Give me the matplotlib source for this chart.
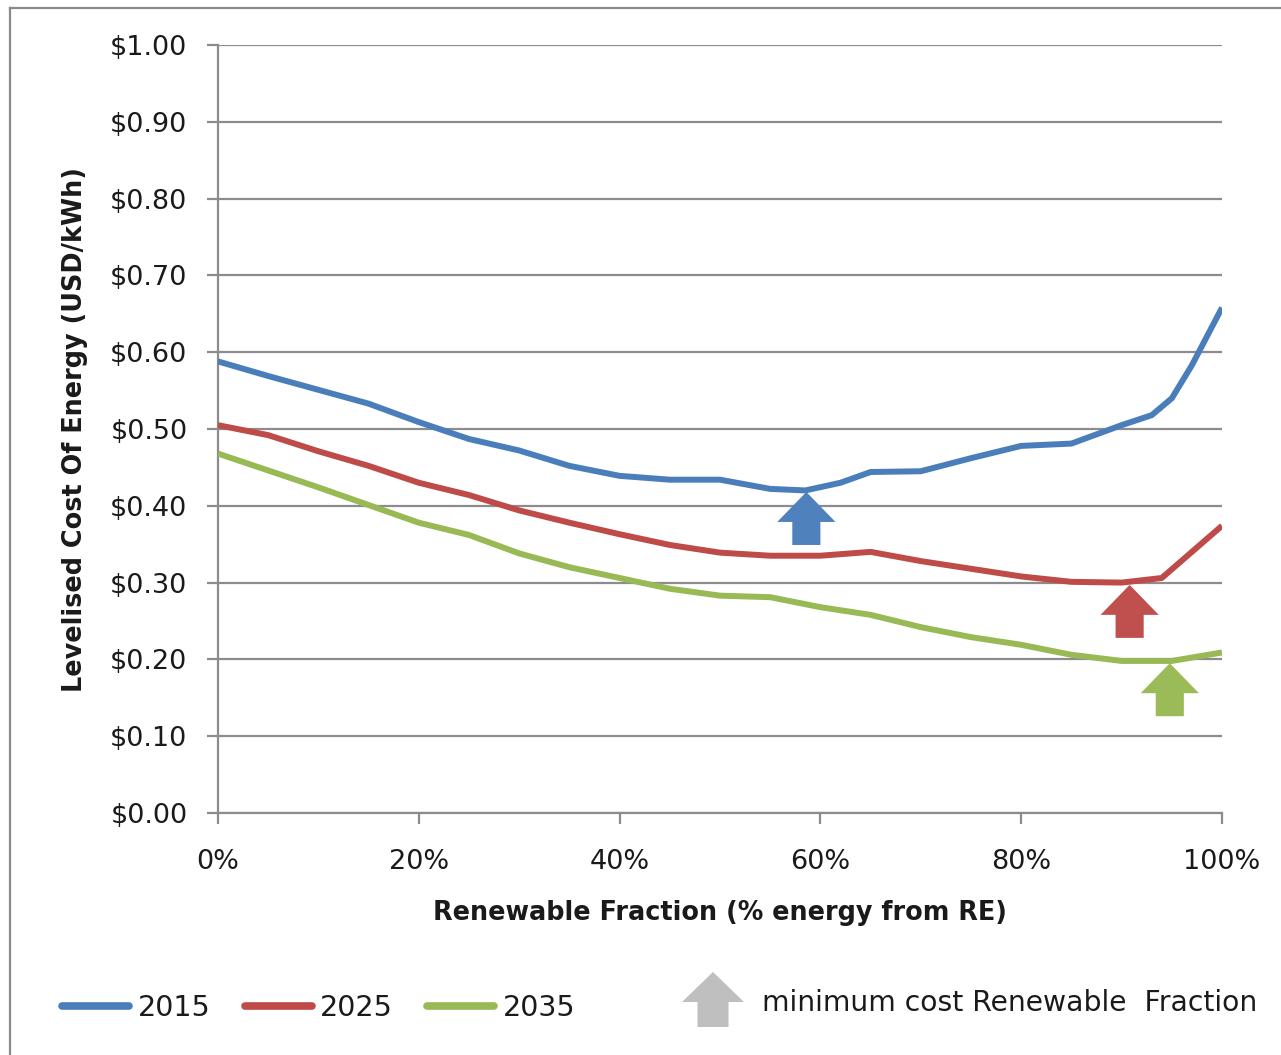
import matplotlib
matplotlib.use("Agg")
import matplotlib.pyplot as plt
from matplotlib.patches import FancyArrow
from matplotlib.lines import Line2D
from matplotlib.ticker import FuncFormatter

# ---- data ----
x_2015 = [0, 5, 10, 15, 20, 25, 30, 35, 40, 45, 50, 55, 58.5, 62, 65, 70, 75, 80, 85, 90, 93, 95, 97, 100]
y_2015 = [0.588, 0.569, 0.551, 0.533, 0.509, 0.487, 0.472, 0.452, 0.439, 0.434, 0.434, 0.422, 0.420,
          0.430, 0.444, 0.445, 0.462, 0.478, 0.481, 0.505, 0.518, 0.540, 0.583, 0.658]

x_2025 = [0, 5, 10, 15, 20, 25, 30, 35, 40, 45, 50, 55, 60, 65, 70, 75, 80, 85, 90, 94, 97, 100]
y_2025 = [0.505, 0.492, 0.471, 0.452, 0.430, 0.414, 0.394, 0.378, 0.363, 0.349, 0.339, 0.335, 0.335,
          0.340, 0.328, 0.318, 0.308, 0.301, 0.300, 0.306, 0.340, 0.374]

x_2035 = [0, 5, 10, 15, 20, 25, 30, 35, 40, 45, 50, 55, 60, 65, 70, 75, 80, 85, 90, 95, 100]
y_2035 = [0.468, 0.446, 0.424, 0.401, 0.378, 0.362, 0.338, 0.320, 0.306, 0.292, 0.283, 0.281, 0.268,
          0.258, 0.242, 0.229, 0.219, 0.206, 0.198, 0.198, 0.209]

series_labels = ["2015", "2025", "2035"]
series_colors = ["#4A7EBB", "#BE4B48", "#98B954"]
arrow_colors = ["#4F81BD", "#C0504D", "#9BBB59"]

# minimum-cost markers: (x position, arrow tip value)
min_x = [58.6, 90.8, 94.8]
min_tip = [0.418, 0.297, 0.195]

x_ticks = [0, 20, 40, 60, 80, 100]
y_ticks = [0.0, 0.1, 0.2, 0.3, 0.4, 0.5, 0.6, 0.7, 0.8, 0.9, 1.0]

x_title = "Renewable Fraction (% energy from RE)"
y_title = "Levelised Cost Of Energy (USD/kWh)"
note_text = "minimum cost Renewable  Fraction"

# ---- figure ----
W, H = 1281, 1055
fig = plt.figure(figsize=(W / 100, H / 100), dpi=100)
plt.rcParams['font.family'] = ['DejaVu Sans']

ax = fig.add_axes([218 / W, 1 - 813 / H, (1222 - 218) / W, (813 - 45) / H])
grid_c = "#8C8C8C"
TXT = "#1a1a1a"

for xs, ys, c, lab in zip([x_2015, x_2025, x_2035], [y_2015, y_2025, y_2035], series_colors, series_labels):
    ax.plot(xs, ys, color=c, lw=4.3, solid_joinstyle="round", solid_capstyle="butt", label=lab, zorder=3)

# arrows
shaft_w = 2.8
head_w = 5.8
head_len = 0.039
arr_len = 0.069
for xm, tip, c in zip(min_x, min_tip, arrow_colors):
    ax.add_patch(FancyArrow(xm, tip - arr_len, 0, arr_len, width=shaft_w, head_width=head_w,
                            head_length=head_len, length_includes_head=True,
                            color=c, lw=0, zorder=4))

ax.set_xlim(0, 100)
ax.set_ylim(0, 1.0)
ax.set_xticks(x_ticks)
ax.set_yticks(y_ticks)
ax.xaxis.set_major_formatter(FuncFormatter(lambda v, p: f"{int(round(v))}%"))
ax.yaxis.set_major_formatter(FuncFormatter(lambda v, p: f"${v:.2f}"))
ax.grid(axis="y", color=grid_c, lw=1.6, zorder=1)
ax.set_axisbelow(True)
for s in ["top", "right"]:
    ax.spines[s].set_visible(False)
for s in ["left", "bottom"]:
    ax.spines[s].set_color(grid_c)
    ax.spines[s].set_linewidth(1.6)
ax.tick_params(axis="both", direction="out", length=8, width=1.6, color=grid_c,
               labelsize=19.5, labelcolor=TXT)
ax.tick_params(axis="y", pad=14)
ax.tick_params(axis="x", pad=18)

ax.set_xlabel(x_title, fontsize=18.4, fontweight="bold", color=TXT, labelpad=18)
ax.set_ylabel(y_title, fontsize=18.4, fontweight="bold", color=TXT, labelpad=16)

# outer frame
fig.add_artist(Line2D([10 / W, 10 / W], [0, 1 - 8 / H], color="#8a8a8a", lw=1.6))
fig.add_artist(Line2D([10 / W, 1], [1 - 8 / H, 1 - 8 / H], color="#8a8a8a", lw=1.6))

# legend
handles = [Line2D([], [], color=c, lw=5.5, solid_capstyle="round") for c in series_colors]
fig.legend(handles, series_labels, loc="center left", bbox_to_anchor=(51 / W, 1 - 1008 / H),
           ncol=3, frameon=False, fontsize=20.5, handlelength=2.35, handletextpad=0.3,
           columnspacing=1.2, labelcolor=TXT, borderaxespad=0)

# gray arrow legend item
lax = fig.add_axes([0, 0, 1, 1], facecolor="none")
lax.set_xlim(0, W)
lax.set_ylim(H, 0)
lax.axis("off")
lax.add_patch(FancyArrow(713, 1027, 0, -55, width=31, head_width=62, head_length=30,
                         length_includes_head=True, color="#BFBFBF", lw=0))
fig.text(762 / W, 1 - 1003 / H, note_text, fontsize=20.3, color=TXT, va="center", ha="left")

fig.savefig("out.png", dpi=100)
